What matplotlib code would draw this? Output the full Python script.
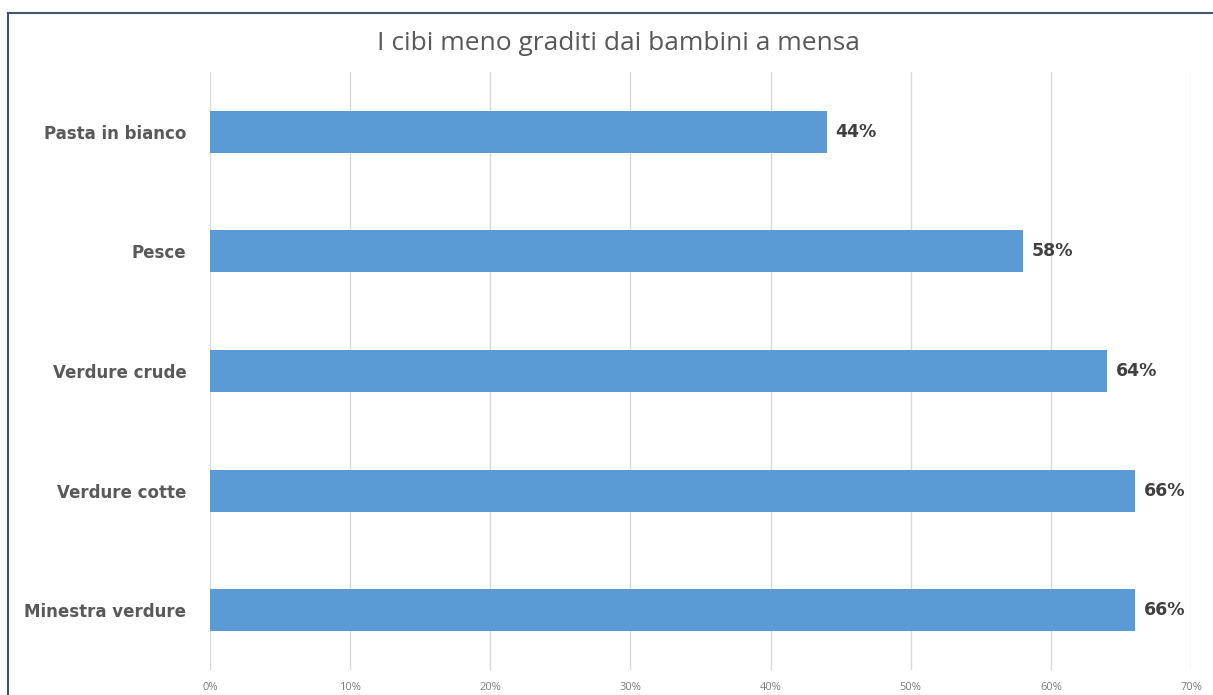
import matplotlib
matplotlib.use("Agg")
import matplotlib.pyplot as plt
from matplotlib.lines import Line2D
from matplotlib.ticker import FuncFormatter

categories = ["Pasta in bianco", "Pesce", "Verdure crude", "Verdure cotte", "Minestra verdure"]
values = [44, 58, 64, 66, 66]
title = "I cibi meno graditi dai bambini a mensa"
xticks = [0, 10, 20, 30, 40, 50, 60, 70]

BOLD_FONT = ["DejaVu Sans"]

W, H = 1213, 695
fig = plt.figure(figsize=(W / 100, H / 100), dpi=100)
fig.patch.set_facecolor("white")

ax = fig.add_axes([210 / W, 1 - 670 / H, (1191 - 210) / W, (670 - 72) / H])
ypos = list(range(len(categories)))
ax.barh(ypos, values, height=0.35, color="#5B9BD5", zorder=3)
ax.set_ylim(len(categories) - 0.5, -0.5)
ax.set_xlim(0, 70)
ax.set_xticks(xticks)
ax.xaxis.set_major_formatter(FuncFormatter(lambda v, p: f"{v:.0f}%"))
ax.set_yticks(ypos)
ax.set_yticklabels(categories, fontsize=12, fontweight="bold", color="#595959", family=BOLD_FONT)
ax.tick_params(axis="y", length=0, pad=17)
ax.tick_params(axis="x", length=0, labelsize=8, labelcolor="#7f7f7f", pad=9)
for lab in ax.get_xticklabels():
    lab.set_family(["Open Sans", "DejaVu Sans"])
ax.grid(axis="x", color="#d9d9d9", linewidth=1, zorder=0)
for s in ax.spines.values():
    s.set_visible(False)

for y, v in zip(ypos, values):
    ax.text(v + 0.65, y, f"{v}%", va="center", ha="left", fontsize=12.5, fontweight="bold",
            color="#404040", family=BOLD_FONT)

fig.text(618 / W, 1 - 44 / H, title, ha="center", va="center", fontsize=19,
         color="#595959", family=["Open Sans", "DejaVu Sans"])

# outer chart frame (top and left edges)
fig.add_artist(Line2D([8 / W, 1.0], [1 - 13 / H, 1 - 13 / H], color="#44546a", lw=1.5,
                      transform=fig.transFigure))
fig.add_artist(Line2D([8 / W, 8 / W], [0, 1 - 13 / H], color="#44546a", lw=1.5,
                      transform=fig.transFigure))

fig.savefig("out.png", dpi=100)
